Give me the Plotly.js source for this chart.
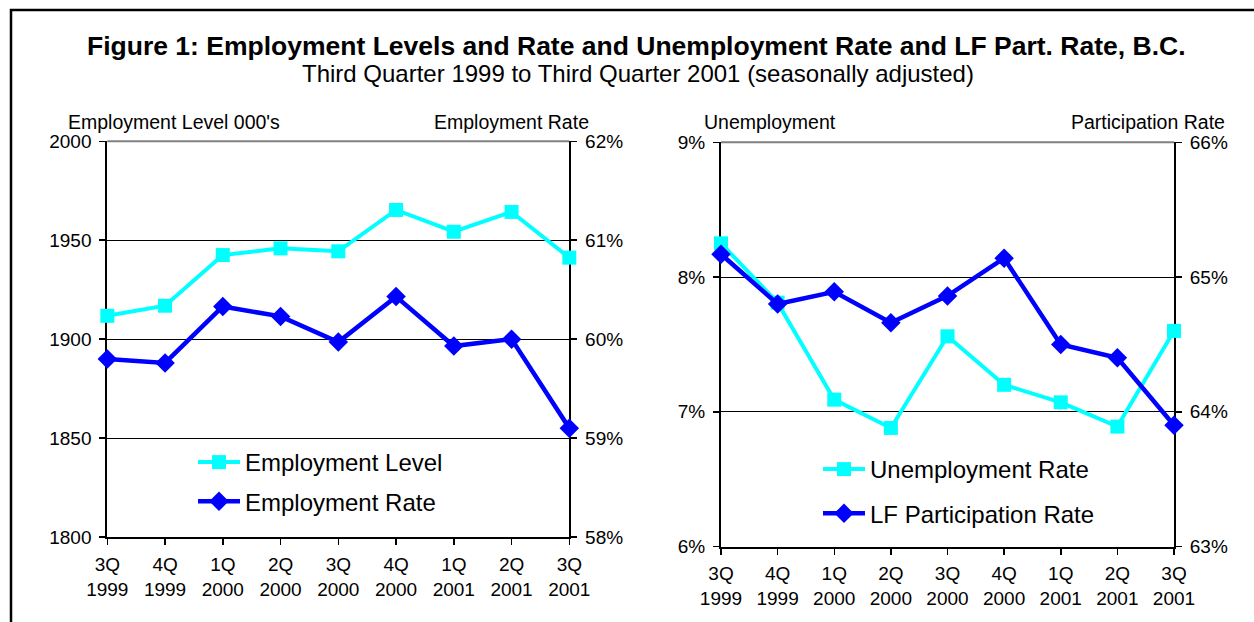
<!DOCTYPE html>
<html>
<head>
<meta charset="utf-8">
<script src="https://cdn.plot.ly/plotly-3.0.1.min.js"></script>
<style>
  html, body { margin: 0; padding: 0; background: #fff; }
  #chart { width: 1254px; height: 622px; }
</style>
</head>
<body>
<div id="chart"></div>
<script>
// ---- data ----
const quarters = ['3Q<br>1999', '4Q<br>1999', '1Q<br>2000', '2Q<br>2000', '3Q<br>2000',
                  '4Q<br>2000', '1Q<br>2001', '2Q<br>2001', '3Q<br>2001'];
const employmentLevel = [1911.8, 1916.9, 1942.5, 1945.9, 1944.4, 1965.3, 1954.3, 1964.3, 1941.2];
const employmentRate = [59.80, 59.76, 60.33, 60.23, 59.97, 60.43, 59.93, 60.00, 59.10];
const unemploymentRate = [8.25, 7.81, 7.09, 6.88, 7.56, 7.20, 7.07, 6.89, 7.60];
const participationRate = [65.17, 64.80, 64.89, 64.66, 64.86, 65.14, 64.50, 64.40, 63.90];
const levelGrid = [1850, 1900, 1950];
const unempGrid = [7, 8];

const W = 1254, H = 622;
const px = v => v / W;
const py = v => 1 - v / H;

const FONT = 'Liberation Sans, Arial, Helvetica, sans-serif';
const CYAN = '#00FFFF';
const BLUE = '#0000FF';

const traces = [
  { x: quarters, y: employmentLevel, name: 'Employment Level', type: 'scatter', mode: 'lines+markers',
    xaxis: 'x', yaxis: 'y', legend: 'legend', legendgroup: 'a', cliponaxis: false,
    line: { color: CYAN, width: 4 }, marker: { symbol: 'square', size: 14, color: CYAN } },
  { x: quarters, y: employmentRate, name: 'Employment Rate', type: 'scatter', mode: 'lines+markers',
    xaxis: 'x', yaxis: 'y2', legend: 'legend', legendgroup: 'b', cliponaxis: false,
    line: { color: BLUE, width: 4.5 }, marker: { symbol: 'diamond', size: 15, color: BLUE } },
  { x: quarters, y: unemploymentRate, name: 'Unemployment Rate', type: 'scatter', mode: 'lines+markers',
    xaxis: 'x2', yaxis: 'y3', legend: 'legend2', legendgroup: 'c', cliponaxis: false,
    line: { color: CYAN, width: 4 }, marker: { symbol: 'square', size: 14, color: CYAN } },
  { x: quarters, y: participationRate, name: 'LF Participation Rate', type: 'scatter', mode: 'lines+markers',
    xaxis: 'x2', yaxis: 'y4', legend: 'legend2', legendgroup: 'd', cliponaxis: false,
    line: { color: BLUE, width: 4.5 }, marker: { symbol: 'diamond', size: 15, color: BLUE } }
];

const tickFont = { family: FONT, size: 19, color: '#000' };

const baseX = {
  type: 'category', range: [0, 8], showgrid: false, showline: true, linecolor: '#000', linewidth: 2,
  ticks: 'outside', ticklen: 6, tickcolor: '#000', tickwidth: 1.5, tickfont: tickFont,
  ticklabelstandoff: 3, fixedrange: true, layer: 'below traces', zeroline: false
};
const baseY = {
  showline: true, linecolor: '#000', linewidth: 2, ticks: 'outside', ticklen: 6, tickcolor: '#000',
  tickwidth: 1.5, tickfont: tickFont, ticklabelstandoff: 4, zeroline: false, fixedrange: true,
  layer: 'below traces', showgrid: false
};
const gridMinor = vals => ({ tickmode: 'array', tickvals: vals, showgrid: true, gridcolor: '#000',
  gridwidth: 1, ticks: '' });

const leftTop = 141.3, leftBot = 537, rightTop = 142.3, rightBot = 546.5;

const layout = {
  width: W, height: H,
  margin: { l: 0, r: 0, t: 0, b: 0 },
  paper_bgcolor: '#fff', plot_bgcolor: '#fff',
  font: { family: FONT, color: '#000' },
  showlegend: true,
  xaxis: Object.assign({}, baseX, { domain: [px(107.3), px(569.3)], anchor: 'y' }),
  yaxis: Object.assign({}, baseY, { domain: [py(leftBot), py(leftTop)], anchor: 'x',
    range: [1800, 2000], dtick: 50, tick0: 1800, minor: gridMinor(levelGrid) }),
  yaxis2: Object.assign({}, baseY, { overlaying: 'y', side: 'right', anchor: 'x',
    range: [58, 62], dtick: 1, tick0: 58, ticksuffix: '%' }),
  xaxis2: Object.assign({}, baseX, { domain: [px(721), px(1174)], anchor: 'y3' }),
  yaxis3: Object.assign({}, baseY, { domain: [py(rightBot), py(rightTop)], anchor: 'x2',
    range: [6, 9], dtick: 1, tick0: 6, ticksuffix: '%', minor: gridMinor(unempGrid) }),
  yaxis4: Object.assign({}, baseY, { overlaying: 'y3', side: 'right', anchor: 'x2',
    range: [63, 66], dtick: 1, tick0: 63, ticksuffix: '%' }),
  legend: {
    x: px(193), xanchor: 'left', y: py(440), yanchor: 'top',
    font: { family: FONT, size: 24, color: '#000' }, bgcolor: 'rgba(0,0,0,0)', borderwidth: 0,
    traceorder: 'grouped', tracegroupgap: 5, itemwidth: 42, itemclick: false, itemdoubleclick: false
  },
  legend2: {
    x: px(818), xanchor: 'left', y: py(447), yanchor: 'top',
    font: { family: FONT, size: 24, color: '#000' }, bgcolor: 'rgba(0,0,0,0)', borderwidth: 0,
    traceorder: 'grouped', tracegroupgap: 10, itemwidth: 42, itemclick: false, itemdoubleclick: false
  },
  shapes: [
    // outer frame
    { type: 'rect', xref: 'paper', yref: 'paper', x0: px(11), x1: 1.1, y0: py(10), y1: -0.1,
      line: { color: '#000', width: 2.5 }, layer: 'above' },
    // grey top borders of the plot areas
    { type: 'line', xref: 'x domain', yref: 'y domain', x0: 0, x1: 1, y0: 1, y1: 1,
      line: { color: '#808080', width: 2 }, layer: 'below' },
    { type: 'line', xref: 'x2 domain', yref: 'y3 domain', x0: 0, x1: 1, y0: 1, y1: 1,
      line: { color: '#808080', width: 2 }, layer: 'below' }
  ],
  annotations: [
    { text: '<b>Figure 1: Employment Levels and Rate and Unemployment Rate and LF Part. Rate, B.C.</b>',
      xref: 'paper', yref: 'paper', x: px(636), y: py(46), xanchor: 'center', yanchor: 'middle',
      showarrow: false, font: { family: FONT, size: 26.5, color: '#000' } },
    { text: 'Third Quarter 1999 to Third Quarter 2001 (seasonally adjusted)',
      xref: 'paper', yref: 'paper', x: px(638), y: py(73), xanchor: 'center', yanchor: 'middle',
      showarrow: false, font: { family: FONT, size: 24, color: '#000' } },
    { text: "Employment Level 000's", xref: 'paper', yref: 'paper', x: px(67), y: py(122.5),
      xanchor: 'left', yanchor: 'middle', showarrow: false, borderpad: 0,
      font: { family: FONT, size: 19.5, color: '#000' } },
    { text: 'Employment Rate', xref: 'paper', yref: 'paper', x: px(590), y: py(122.5),
      xanchor: 'right', yanchor: 'middle', showarrow: false, borderpad: 0,
      font: { family: FONT, size: 19.5, color: '#000' } },
    { text: 'Unemployment', xref: 'paper', yref: 'paper', x: px(703), y: py(121.5),
      xanchor: 'left', yanchor: 'middle', showarrow: false, borderpad: 0,
      font: { family: FONT, size: 19.5, color: '#000' } },
    { text: 'Participation Rate', xref: 'paper', yref: 'paper', x: px(1226), y: py(121.5),
      xanchor: 'right', yanchor: 'middle', showarrow: false, borderpad: 0,
      font: { family: FONT, size: 19.5, color: '#000' } }
  ]
};

Plotly.newPlot('chart', traces, layout, { staticPlot: true, displayModeBar: false });
</script>
</body>
</html>
